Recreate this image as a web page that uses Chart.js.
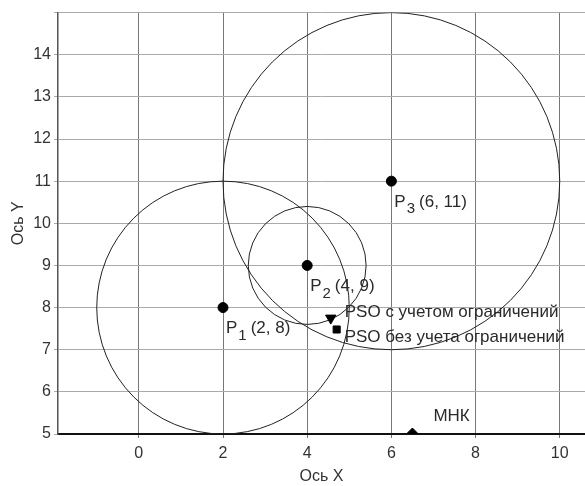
<!DOCTYPE html>
<html>
<head>
<meta charset="utf-8">
<script src="https://cdn.jsdelivr.net/npm/chart.js@4"></script>
<style>
  html, body { margin: 0; padding: 0; background: #fff; overflow: hidden; }
  #wrap { width: 592px; height: 486px; }
</style>
</head>
<body>
<div id="wrap"><canvas id="plot"></canvas></div>
<script>
// centres of the three circles and their radii (axis units)
var centreX = [2, 4, 6];
var centreY = [8, 9, 11];
var radius = [3, 1.4, 4];
var centreNames = ['1', '2', '3'];

// solutions
var psoConstrained = { x: 4.56, y: 7.75 };
var psoFree = { x: 4.7, y: 7.48 };
var mnk = { x: 6.5, y: 5 };

var xTicks = [0, 2, 4, 6, 8, 10];
var yTicks = [5, 6, 7, 8, 9, 10, 11, 12, 13, 14, 15];

var FONT = 'Liberation Sans, Arial, sans-serif';

var centres = [];
for (var i = 0; i < centreX.length; i++) {
  centres.push({ x: centreX[i], y: centreY[i] });
}

// circles drawn in data units through the scales
var circlesPlugin = {
  id: 'circles',
  beforeDatasetsDraw: function(chart) {
    var ctx = chart.ctx, xs = chart.scales.x, ys = chart.scales.y;
    var a = chart.chartArea;
    ctx.save();
    ctx.beginPath();
    ctx.rect(a.left, a.top, a.right - a.left, a.bottom - a.top);
    ctx.clip();
    ctx.strokeStyle = '#222';
    ctx.lineWidth = 1;
    for (var i = 0; i < centreX.length; i++) {
      var cx = xs.getPixelForValue(centreX[i]);
      var cy = ys.getPixelForValue(centreY[i]);
      var rx = Math.abs(xs.getPixelForValue(centreX[i] + radius[i]) - cx);
      var ry = Math.abs(ys.getPixelForValue(centreY[i] + radius[i]) - cy);
      ctx.beginPath();
      ctx.ellipse(cx, cy, rx, ry, 0, 0, Math.PI * 2);
      ctx.stroke();
    }
    ctx.restore();
  }
};

// point annotations
var labelsPlugin = {
  id: 'pointLabels',
  afterDatasetsDraw: function(chart) {
    var ctx = chart.ctx, xs = chart.scales.x, ys = chart.scales.y;
    ctx.save();
    ctx.fillStyle = '#2a2a2a';
    ctx.textBaseline = 'middle';
    ctx.textAlign = 'left';
    for (var i = 0; i < centreX.length; i++) {
      var px = xs.getPixelForValue(centreX[i]) + 3;
      var py = ys.getPixelForValue(centreY[i]) + 21;
      ctx.font = '17px ' + FONT;
      ctx.fillText('P', px, py);
      px += ctx.measureText('P').width + 1;
      ctx.font = '15px ' + FONT;
      ctx.fillText(centreNames[i], px, py + 7);
      px += ctx.measureText(centreNames[i]).width + 4;
      ctx.font = '17px ' + FONT;
      ctx.fillText('(' + centreX[i] + ', ' + centreY[i] + ')', px, py);
    }
    ctx.font = '17px ' + FONT;
    ctx.fillText('PSO с учетом ограничений',
      xs.getPixelForValue(psoConstrained.x) + 14, ys.getPixelForValue(psoConstrained.y) - 6);
    ctx.fillText('PSO без учета ограничений',
      xs.getPixelForValue(psoFree.x) + 8, ys.getPixelForValue(psoFree.y) + 8);
    ctx.fillText('МНК',
      xs.getPixelForValue(mnk.x) + 21, ys.getPixelForValue(mnk.y) - 18);
    ctx.restore();
  }
};

new Chart(document.getElementById('plot'), {
  type: 'scatter',
  data: {
    datasets: [
      { label: 'P', data: centres, pointStyle: 'circle', pointRadius: 5,
        backgroundColor: '#000', borderColor: '#000' },
      { label: 'PSO с учетом ограничений', data: [psoConstrained], pointStyle: 'triangle',
        rotation: 180, pointRadius: 6, backgroundColor: '#000', borderColor: '#000' },
      { label: 'PSO без учета ограничений', data: [psoFree], pointStyle: 'rect',
        pointRadius: 5, backgroundColor: '#000', borderColor: '#000' },
      { label: 'МНК', data: [mnk], pointStyle: 'rectRot', pointRadius: 6,
        backgroundColor: '#000', borderColor: '#000' }
    ]
  },
  options: {
    responsive: true,
    maintainAspectRatio: false,
    animation: false,
    layout: { padding: { top: 11, right: 0, left: 0, bottom: 0 } },
    plugins: { legend: { display: false }, tooltip: { enabled: false } },
    scales: {
      x: {
        type: 'linear',
        min: -1.92,
        max: 10.6,
        afterBuildTicks: function(scale) {
          scale.ticks = xTicks.map(function(v) { return { value: v }; });
        },
        afterFit: function(scale) { scale.height = 52; },
        ticks: { color: '#333', font: { family: FONT, size: 16 }, padding: 6, maxRotation: 0 },
        grid: { color: '#777', lineWidth: 1, tickLength: 4 },
        border: { color: '#111', width: 2 },
        title: { display: true, text: 'Ось X', color: '#333',
          font: { family: FONT, size: 16 }, padding: { top: 0, bottom: 0 } }
      },
      y: {
        type: 'linear',
        min: 5,
        max: 15,
        afterBuildTicks: function(scale) {
          scale.ticks = yTicks.map(function(v) { return { value: v }; });
        },
        afterFit: function(scale) { scale.width = 58; },
        ticks: {
          color: '#333', font: { family: FONT, size: 16 }, padding: 3,
          callback: function(v) { return v === 15 ? '' : v; }
        },
        grid: { color: '#aaa', lineWidth: 1, tickLength: 4 },
        border: { color: '#555', width: 1.5 },
        title: { display: true, text: 'Ось Y', color: '#333',
          font: { family: FONT, size: 16 }, padding: { top: 9, bottom: 0 } }
      }
    }
  },
  plugins: [circlesPlugin, labelsPlugin]
});
</script>
</body>
</html>
